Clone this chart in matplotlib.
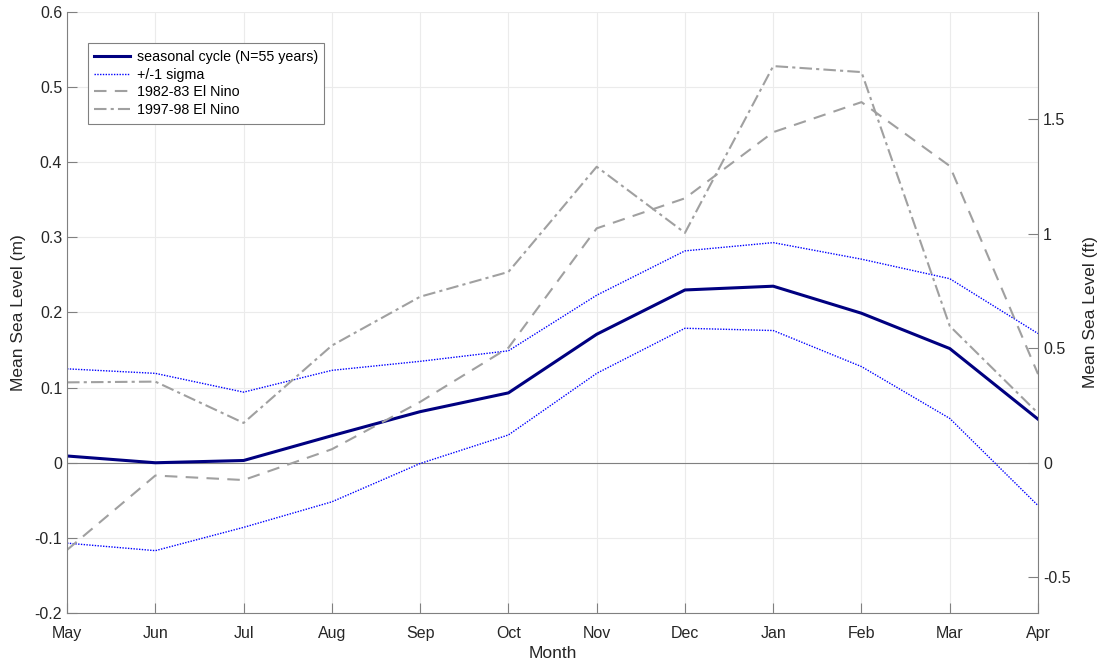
import numpy as np
import matplotlib
matplotlib.use("Agg")
import matplotlib.pyplot as plt

plt.rcParams['font.family'] = ['Liberation Sans', 'DejaVu Sans']

# data (metres)
months = ['May', 'Jun', 'Jul', 'Aug', 'Sep', 'Oct', 'Nov', 'Dec', 'Jan', 'Feb', 'Mar', 'Apr']
seasonal = [0.009, 0.000, 0.003, 0.036, 0.068, 0.093, 0.171, 0.230, 0.235, 0.199, 0.152, 0.058]
sigma_hi = [0.125, 0.119, 0.094, 0.123, 0.135, 0.149, 0.223, 0.282, 0.293, 0.271, 0.245, 0.172]
sigma_lo = [-0.107, -0.117, -0.086, -0.052, -0.001, 0.037, 0.119, 0.179, 0.176, 0.128, 0.059, -0.057]
nino_8283 = [-0.116, -0.017, -0.023, 0.018, 0.081, 0.153, 0.312, 0.352, 0.440, 0.480, 0.395, 0.118]
nino_9798 = [0.107, 0.108, 0.053, 0.156, 0.221, 0.254, 0.394, 0.306, 0.528, 0.520, 0.182, 0.066]

M2FT = 3.28084
x = np.arange(1, len(months) + 1)

fig = plt.figure(figsize=(11.01, 6.62), dpi=100)
ax = fig.add_axes([0.0609, 0.074, 0.8819, 0.9079])

ax.grid(True, color='#ebebeb', linewidth=0.8)
ax.set_axisbelow(True)
ax.axhline(0, color='#808080', linewidth=0.8)

ax.plot(x, seasonal, color='#000080', linewidth=2.2, label='seasonal cycle (N=55 years)')
ax.plot(x, sigma_hi, color='#0000ff', linewidth=1.0, linestyle=(0, (1, 1)), label='+/-1 sigma')
ax.plot(x, sigma_lo, color='#0000ff', linewidth=1.0, linestyle=(0, (1, 1)))
ax.plot(x, nino_8283, color='#a0a0a0', linewidth=1.5, linestyle=(0, (6, 4)), label='1982-83 El Nino')
ax.plot(x, nino_9798, color='#a0a0a0', linewidth=1.5, linestyle=(0, (6, 2, 1.5, 2)), label='1997-98 El Nino')

ax.set_xlim(1, 12)
ax.set_ylim(-0.2, 0.6)
ax.set_xticks(x)
ax.set_xticklabels(months)
ax.set_yticks(np.arange(-0.2, 0.61, 0.1))
ax.set_yticklabels(['-0.2', '-0.1', '0', '0.1', '0.2', '0.3', '0.4', '0.5', '0.6'])
ax.set_xlabel('Month', fontsize=12.5, color='#262626', labelpad=4)
ax.set_ylabel('Mean Sea Level (m)', fontsize=12.5, color='#262626', labelpad=6)
ax.tick_params(direction='in', length=7, width=0.8, labelsize=11.5, color='#808080',
               labelcolor='#262626')
ax.tick_params(axis='x', pad=9)
for s in ['top', 'right']:
    ax.spines[s].set_visible(False)
for s in ['left', 'bottom']:
    ax.spines[s].set_color('#808080')

ax2 = ax.twinx()
ax2.set_ylim(-0.2 * M2FT, 0.6 * M2FT)
ax2.set_yticks([-0.5, 0, 0.5, 1, 1.5])
ax2.set_yticklabels(['-0.5', '0', '0.5', '1', '1.5'])
ax2.set_ylabel('Mean Sea Level (ft)', fontsize=12.5, color='#262626', labelpad=9)
ax2.tick_params(direction='in', length=7, width=0.8, labelsize=11.5, color='#808080',
                labelcolor='#262626')
for s in ['top', 'left', 'bottom']:
    ax2.spines[s].set_visible(False)
ax2.spines['right'].set_color('#808080')

leg = ax.legend(loc='upper left', bbox_to_anchor=(0.0216, 0.948), borderaxespad=0,
                fontsize=10.3, fancybox=False, framealpha=1, edgecolor='#808080',
                handlelength=2.5, handletextpad=0.45, borderpad=0.45, labelspacing=0.27)
leg.get_frame().set_linewidth(0.8)

fig.savefig('out.png', dpi=100)
